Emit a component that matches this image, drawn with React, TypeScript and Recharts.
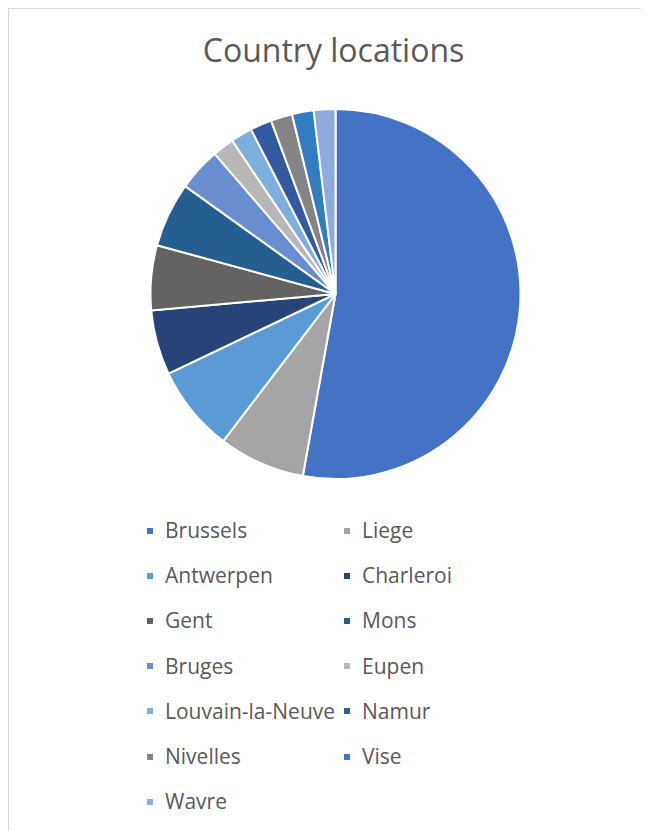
import { Cell, Legend, Pie, PieChart } from 'recharts';

const CITIES = [
  'Brussels',
  'Liege',
  'Antwerpen',
  'Charleroi',
  'Gent',
  'Mons',
  'Bruges',
  'Eupen',
  'Louvain-la-Neuve',
  'Namur',
  'Nivelles',
  'Vise',
  'Wavre',
];

const COUNTS = [28, 4, 4, 3, 3, 3, 2, 1, 1, 1, 1, 1, 1];

const COLORS = [
  '#4472c4',
  '#a5a5a5',
  '#5b9bd5',
  '#264478',
  '#636363',
  '#255e91',
  '#698ed0',
  '#b7b7b7',
  '#7cafdd',
  '#335aa1',
  '#848484',
  '#327dc2',
  '#8faadc',
];

const FONT = '"Open Sans", sans-serif';

const data = CITIES.map((name, i) => ({ name, value: COUNTS[i] }));

function LegendGrid() {
  return (
    <div style={{ position: 'relative', width: 400, height: 300 }}>
      {CITIES.map((name, i) => (
        <div
          key={name}
          style={{
            position: 'absolute',
            left: (i % 2) * 197,
            top: Math.floor(i / 2) * 45.2,
            display: 'flex',
            alignItems: 'center',
            height: 21,
            fontFamily: FONT,
            fontSize: 21,
            lineHeight: '21px',
            color: '#595959',
            whiteSpace: 'nowrap',
          }}
        >
          <span
            style={{
              display: 'inline-block',
              width: 6,
              height: 6,
              background: COLORS[i],
              marginRight: 12,
            }}
          />
          {name}
        </div>
      ))}
    </div>
  );
}

export default function App() {
  return (
    <div
      style={{
        position: 'relative',
        width: 641,
        height: 823,
        boxSizing: 'border-box',
        borderTop: '1px solid #d9d9d9',
        borderLeft: '1px solid #d9d9d9',
        background: '#fff',
      }}
    >
      <div
        style={{
          position: 'absolute',
          left: 0,
          width: 649,
          top: 24.6,
          textAlign: 'center',
          fontFamily: FONT,
          fontSize: 32,
          lineHeight: '32px',
          color: '#595959',
        }}
      >
        Country locations
      </div>
      <PieChart width={640} height={822} style={{ position: 'absolute', left: 0, top: 0 }}>
        <Pie
          data={data}
          dataKey="value"
          nameKey="name"
          cx={321.5}
          cy={280}
          outerRadius={185}
          startAngle={90}
          endAngle={-270}
          stroke="#fff"
          strokeWidth={2}
          isAnimationActive={false}
        >
          {data.map((d, i) => (
            <Cell key={d.name} fill={COLORS[i]} />
          ))}
        </Pie>
        <Legend
          content={<LegendGrid />}
          wrapperStyle={{ position: 'absolute', left: 138, top: 511, width: 420 }}
        />
      </PieChart>
    </div>
  );
}
